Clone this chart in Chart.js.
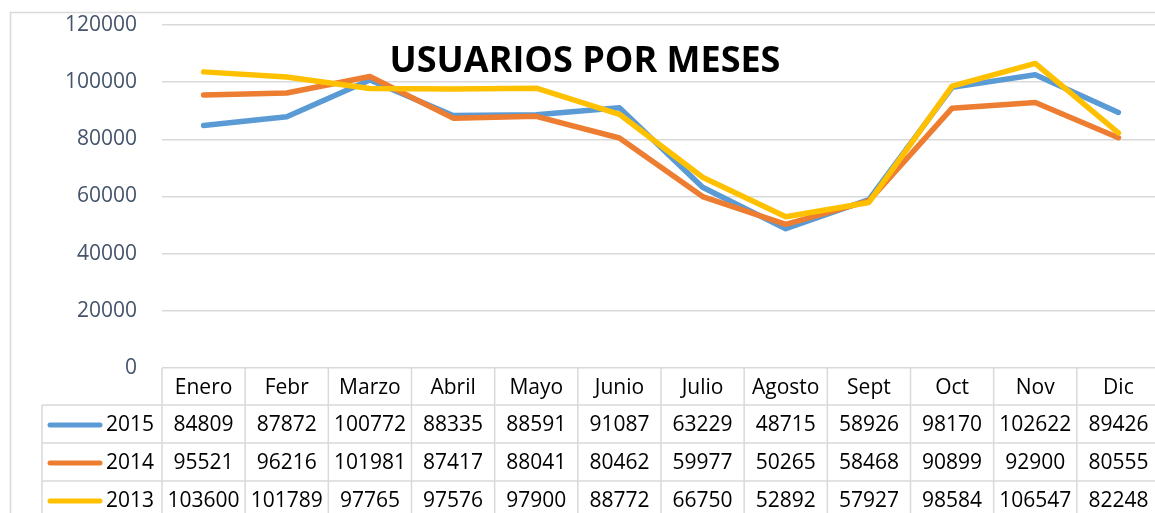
<!DOCTYPE html>
<html>
<head>
<meta charset="utf-8">
<script src="https://cdn.jsdelivr.net/npm/chart.js@4/dist/chart.umd.min.js"></script>
<style>
    body { margin: 0; overflow: hidden; background: #fff; }
    #wrap { width: 1170px; height: 513px; }
</style>
</head>
<body>
<div id="wrap"><canvas id="usuariosChart" width="1170" height="513"></canvas></div>
<script>
var meses = ['Enero', 'Febr', 'Marzo', 'Abril', 'Mayo', 'Junio', 'Julio', 'Agosto', 'Sept', 'Oct', 'Nov', 'Dic'];
var series = ['2015', '2014', '2013'];
var datos2015 = [84809, 87872, 100772, 88335, 88591, 91087, 63229, 48715, 58926, 98170, 102622, 89426];
var datos2014 = [95521, 96216, 101981, 87417, 88041, 80462, 59977, 50265, 58468, 90899, 92900, 80555];
var datos2013 = [103600, 101789, 97765, 97576, 97900, 88772, 66750, 52892, 57927, 98584, 106547, 82248];
var yTicks = [0, 20000, 40000, 60000, 80000, 100000, 120000];

var colores = ['#5B9BD5', '#ED7D31', '#FFC000'];
var valores = [datos2015, datos2014, datos2013];
var gris = '#D9D9D9';
var fuenteTabla = "'Open Sans', sans-serif";

// title + outer border + data table under the plot
var tablaPlugin = {
    id: 'tabla',
    beforeDraw: function (chart) {
        var ctx = chart.ctx;
        ctx.save();
        ctx.strokeStyle = gris;
        ctx.lineWidth = 1.5;
        ctx.strokeRect(10.5, 12.5, 1400, 600);
        ctx.restore();
    },
    afterDraw: function (chart) {
        var ctx = chart.ctx;
        var x = chart.scales.x;
        var area = chart.chartArea;
        var colW = x.getPixelForValue(1) - x.getPixelForValue(0);
        var rowH = 38;
        var top = area.bottom;
        var izq = 42;

        ctx.save();
        ctx.strokeStyle = gris;
        ctx.lineWidth = 1.5;
        // vertical lines
        for (var i = 0; i <= meses.length; i++) {
            var vx = area.left + i * colW;
            ctx.beginPath();
            ctx.moveTo(vx, top);
            ctx.lineTo(vx, 520);
            ctx.stroke();
        }
        ctx.beginPath();
        ctx.moveTo(izq, top + rowH - 1);
        ctx.lineTo(izq, 520);
        ctx.stroke();
        // horizontal lines
        for (var r = 1; r <= 3; r++) {
            var hy = top + r * rowH - 1;
            ctx.beginPath();
            ctx.moveTo(izq, hy);
            ctx.lineTo(area.right, hy);
            ctx.stroke();
        }

        ctx.fillStyle = '#000';
        ctx.textAlign = 'center';
        ctx.textBaseline = 'middle';
        ctx.font = '21px ' + fuenteTabla;
        meses.forEach(function (m, i) {
            ctx.fillText(m, x.getPixelForValue(i), top + rowH / 2 + 1);
        });
        series.forEach(function (s, r) {
            var cy = top + rowH * (r + 1) + rowH / 2;
            valores[r].forEach(function (v, i) {
                ctx.fillText(String(v), x.getPixelForValue(i), cy);
            });
            // legend key
            ctx.strokeStyle = colores[r];
            ctx.lineWidth = 5;
            ctx.lineCap = 'round';
            ctx.beginPath();
            ctx.moveTo(50, cy);
            ctx.lineTo(100, cy);
            ctx.stroke();
            ctx.textAlign = 'right';
            ctx.fillText(s, area.left - 8, cy);
            ctx.textAlign = 'center';
        });

        ctx.font = "bold 36px 'Open Sans', sans-serif";
        ctx.fillText('USUARIOS POR MESES', 585, 62);
        ctx.restore();
    }
};

var ctx = document.getElementById('usuariosChart');
window.myChart = new Chart(ctx, {
    type: 'line',
    data: {
        labels: meses,
        datasets: series.map(function (s, i) {
            return {
                label: s,
                data: valores[i],
                borderColor: colores[i],
                backgroundColor: colores[i],
                borderWidth: 5.5,
                pointRadius: 0,
                tension: 0,
                borderCapStyle: 'round',
                borderJoinStyle: 'round',
                order: 2 - i
            };
        })
    },
    options: {
        responsive: false,
        animation: false,
        layout: { padding: { left: 10, right: 10, top: 25, bottom: 145 } },
        plugins: {
            legend: { display: false },
            title: { display: false },
            tooltip: { enabled: false }
        },
        scales: {
            x: {
                display: false,
                offset: true
            },
            y: {
                min: 0,
                max: 120000,
                afterFit: function (scale) {
                    scale.width = 152;
                    scale.paddingTop = 0;
                    scale.paddingBottom = 0;
                },
                afterBuildTicks: function (scale) {
                    scale.ticks = yTicks.map(function (v) { return { value: v }; });
                },
                border: { display: false },
                grid: { color: gris, lineWidth: 1.5, drawTicks: false },
                ticks: {
                    padding: 25,
                    color: '#44546A',
                    font: { family: fuenteTabla, size: 21 },
                    callback: function (v) { return String(v); }
                }
            }
        }
    },
    plugins: [tablaPlugin]
});
</script>
</body>
</html>
